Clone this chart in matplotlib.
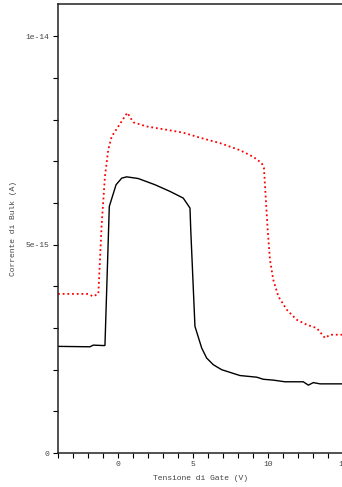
import matplotlib
matplotlib.use("Agg")
import matplotlib.pyplot as plt
from matplotlib.ticker import MultipleLocator, FixedLocator

# Data (gate voltage in V, bulk current in 1e-15 A)
x_red = [-4.0, -2.0, -1.67, -1.31, -1.09, -0.87, -0.65, -0.42, 0.02, 0.62, 1.02,
         1.91, 3.25, 4.35, 5.47, 6.8, 8.13, 9.02, 9.58, 9.73, 9.91, 9.98, 10.13,
         10.35, 10.69, 11.25, 11.91, 12.58, 13.25, 13.8, 14.13, 15.0]
y_red = [3.82, 3.82, 3.76, 3.82, 5.48, 6.64, 7.28, 7.60, 7.84, 8.17, 7.94,
         7.84, 7.76, 7.69, 7.57, 7.44, 7.27, 7.11, 6.96, 6.84, 5.77, 5.36, 4.64,
         4.16, 3.76, 3.44, 3.20, 3.08, 3.00, 2.76, 2.84, 2.84]

x_blk = [-4.0, -1.87, -1.65, -0.98, -0.87, -0.58, -0.13, 0.25, 0.58, 1.35,
         2.47, 3.47, 4.35, 4.8, 4.85, 5.13, 5.58, 5.91, 6.35, 6.91, 8.13,
         9.25, 9.69, 10.35, 11.13, 12.35, 12.69, 13.02, 13.47, 15.0]
y_blk = [2.56, 2.55, 2.59, 2.58, 2.58, 5.92, 6.44, 6.60, 6.63, 6.59,
         6.44, 6.28, 6.12, 5.88, 5.36, 3.04, 2.52, 2.28, 2.12, 2.00, 1.86,
         1.82, 1.77, 1.75, 1.71, 1.71, 1.63, 1.69, 1.66, 1.66]

x_ticks = [0, 5, 10, 15]
x_ticklabels = ["0", "5", "10", "15"]
y_ticks = [0, 5e-15, 1e-14]
y_ticklabels = ["0", "5e-15", "1e-14"]

W, H = 342, 487
fig = plt.figure(figsize=(W / 100, H / 100), dpi=100)
ax = fig.add_axes([58 / W, 34 / H, 285 / W, 449 / H])

scale = 1e-15
ax.plot(x_blk, [v * scale for v in y_blk], color="black", lw=1.0, solid_joinstyle="miter")
ax.plot(x_red, [v * scale for v in y_red], color="red", lw=1.3, linestyle=(0, (1, 1.6)))

ax.set_xlim(-4, 15)
ax.set_ylim(0, 1.078e-14)

font = {"family": "Liberation Mono", "size": 5.8, "color": "#444444"}
ax.xaxis.set_major_locator(FixedLocator(x_ticks))
ax.xaxis.set_minor_locator(MultipleLocator(1))
ax.yaxis.set_major_locator(FixedLocator(y_ticks))
ax.yaxis.set_minor_locator(MultipleLocator(1e-15))
ax.set_xticklabels(x_ticklabels, **font)
ax.set_yticklabels(y_ticklabels, **font)
ax.tick_params(which="both", direction="out", length=3.5, width=0.8, color="black", pad=3)
ax.tick_params(axis="x", which="both", pad=2)

ax.set_xlabel("Tensione di Gate (V)", labelpad=5, **font)
ax.set_ylabel("Corrente di Bulk (A)", labelpad=6, **font)

for s in ["left", "bottom", "top"]:
    ax.spines[s].set_linewidth(1.1)
    ax.spines[s].set_color("#222222")
ax.spines["right"].set_visible(False)

fig.savefig("out.png", dpi=100)
